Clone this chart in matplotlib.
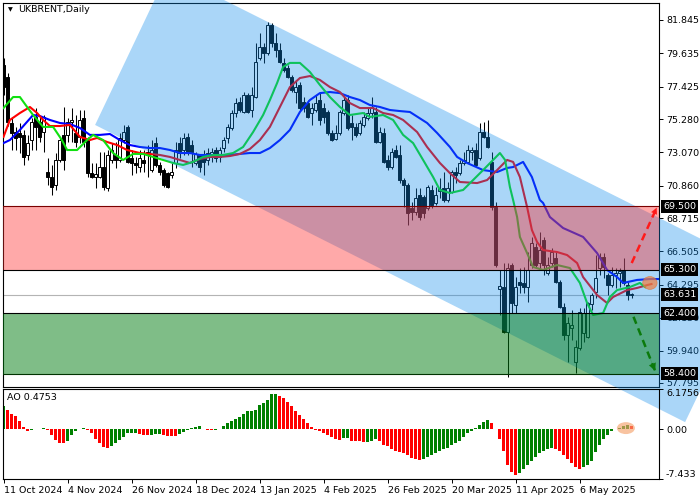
import numpy as np
import matplotlib.pyplot as plt
from matplotlib.patches import Polygon, Ellipse

# daily candles, UKBRENT (bar 0 = 11 Oct 2024)
opens = [78.87, 78.07, 75.02, 74.42, 74.36, 74.23, 72.90, 73.89, 75.42, 75.09,
         74.42, 71.77, 71.44, 70.91, 72.57, 74.23, 74.23, 75.09, 74.36, 74.10,
         75.35, 73.89, 71.70, 71.44, 71.44, 72.10, 70.71, 72.57, 72.90, 72.57,
         73.89, 74.76, 72.70, 72.37, 72.10, 72.57, 73.10, 71.90, 73.69, 72.24,
         71.90, 71.70, 71.57, 72.37, 73.69, 73.23, 74.10, 73.56, 72.37, 72.90,
         72.90, 72.57, 72.77, 73.23, 72.77, 73.36, 74.03, 74.69, 75.68, 76.41,
         75.75, 76.87, 75.88, 76.74, 79.33, 80.06, 79.66, 81.51, 80.32, 79.86,
         78.99, 78.66, 78.07, 77.07, 77.54, 76.41, 76.34, 75.68, 75.88, 76.54,
         76.01, 75.75, 74.36, 73.96, 74.36, 75.68, 76.54, 75.02, 74.76, 74.36,
         74.89, 75.35, 75.68, 75.75, 73.76, 74.36, 72.57, 72.10, 73.23, 72.90,
         71.24, 70.91, 69.39, 69.12, 70.25, 70.12, 69.39, 70.58, 69.72, 70.51,
         70.71, 69.92, 70.45, 71.77, 71.70, 72.37, 72.44, 73.10, 73.23, 72.70,
         74.42, 74.10, 72.44, 69.46, 64.00, 64.16, 61.17, 65.61, 62.96, 64.49,
         64.42, 64.16, 65.61, 66.80, 65.74, 67.27, 65.09, 65.74, 66.07, 64.49,
         62.83, 60.97, 61.43, 59.18, 60.12, 61.10, 60.84, 63.02, 63.82, 65.41,
         66.14, 64.95, 64.29, 64.95, 65.09, 65.28, 64.29, 63.62]
highs = [79.30, 78.30, 75.42, 74.76, 75.02, 74.56, 74.23, 75.35, 76.01, 75.42,
         75.55, 72.70, 72.24, 73.03, 74.10, 76.08, 75.35, 76.01, 75.55, 75.88,
         75.88, 74.10, 72.37, 72.37, 73.10, 73.10, 73.23, 73.69, 73.76, 74.36,
         74.89, 74.89, 73.23, 72.77, 73.23, 73.23, 73.56, 73.89, 74.10, 72.44,
         72.04, 71.77, 72.37, 73.76, 74.10, 74.36, 74.36, 73.89, 73.10, 72.97,
         73.23, 73.36, 73.36, 73.43, 73.43, 74.10, 74.96, 75.88, 76.67, 76.74,
         77.07, 77.00, 77.40, 80.32, 80.98, 80.32, 81.71, 81.65, 80.98, 80.32,
         79.33, 78.86, 78.20, 77.87, 77.74, 76.74, 76.54, 76.34, 76.87, 77.00,
         76.34, 75.88, 74.56, 74.89, 75.88, 76.87, 76.87, 75.55, 75.02, 75.22,
         75.75, 76.08, 76.74, 76.08, 74.76, 74.69, 72.90, 73.36, 73.56, 73.56,
         71.37, 71.04, 69.79, 70.71, 70.71, 70.25, 70.91, 70.91, 70.78, 71.37,
         71.77, 71.10, 71.90, 72.10, 72.57, 73.10, 73.56, 73.43, 73.69, 75.02,
         75.09, 75.22, 73.10, 69.79, 65.28, 65.74, 65.74, 65.74, 64.81, 65.41,
         65.48, 66.47, 67.47, 67.07, 67.80, 67.47, 66.14, 66.73, 66.47, 64.62,
         63.09, 62.17, 62.63, 60.64, 62.76, 62.76, 63.16, 63.76, 66.27, 66.40,
         66.40, 65.09, 65.48, 65.41, 65.41, 66.07, 64.49, 63.76]
lows = [76.90, 74.80, 73.23, 73.23, 73.03, 72.24, 72.57, 73.23, 73.23, 73.76,
        73.10, 70.91, 70.25, 70.58, 72.44, 71.90, 73.76, 73.76, 73.43, 73.69,
        73.43, 71.44, 71.37, 70.71, 71.37, 70.58, 70.51, 72.37, 72.04, 72.44,
        73.69, 72.37, 71.57, 71.70, 71.77, 71.77, 71.44, 71.77, 72.10, 71.57,
        70.78, 70.71, 71.37, 72.04, 72.70, 72.90, 72.90, 72.10, 72.24, 71.77,
        71.57, 72.24, 72.44, 72.44, 72.44, 73.10, 73.69, 74.56, 75.42, 75.75,
        75.68, 75.68, 75.42, 76.67, 79.20, 79.00, 79.53, 80.06, 79.40, 78.99,
        78.40, 78.00, 77.07, 76.34, 75.88, 75.75, 75.35, 74.89, 75.75, 74.89,
        75.02, 74.23, 73.80, 73.90, 74.23, 75.55, 74.56, 73.89, 74.10, 74.23,
        74.76, 75.22, 75.35, 73.69, 73.69, 72.37, 71.90, 71.97, 72.70, 71.04,
        69.46, 68.26, 68.59, 68.92, 68.59, 68.72, 69.26, 69.39, 69.58, 70.05,
        69.79, 69.79, 70.38, 71.04, 71.57, 72.24, 72.37, 72.57, 72.10, 72.57,
        74.03, 73.36, 69.26, 65.48, 62.29, 61.10, 58.18, 62.43, 62.43, 63.76,
        63.76, 63.16, 65.41, 65.48, 65.28, 64.95, 64.95, 65.48, 64.42, 62.76,
        60.64, 59.18, 60.64, 58.45, 59.98, 60.51, 60.77, 62.63, 63.42, 64.95,
        64.75, 63.62, 64.16, 64.09, 64.16, 64.29, 63.29, 63.42]
closes = [77.41, 75.09, 74.36, 74.03, 74.10, 72.77, 73.69, 75.09, 74.76, 74.10,
          75.42, 71.44, 70.78, 72.57, 73.89, 72.57, 75.09, 75.22, 73.76, 75.22,
          73.76, 71.70, 71.44, 71.64, 72.10, 70.78, 72.90, 73.23, 72.57, 74.03,
          74.42, 72.44, 72.37, 72.24, 72.70, 72.37, 72.90, 73.23, 72.24, 71.77,
          70.91, 70.78, 71.77, 73.23, 73.03, 74.03, 73.10, 73.10, 72.97, 72.10,
          72.44, 73.03, 73.10, 72.70, 73.23, 73.89, 74.76, 75.68, 76.34, 75.88,
          76.87, 75.75, 76.87, 79.06, 80.06, 79.66, 81.51, 80.32, 79.86, 79.06,
          78.53, 78.07, 77.21, 77.40, 76.01, 76.01, 75.42, 76.01, 76.34, 75.22,
          75.42, 74.36, 73.89, 74.36, 75.75, 76.54, 74.69, 74.76, 74.23, 75.02,
          75.42, 75.68, 76.08, 73.76, 74.42, 72.44, 72.10, 73.10, 72.77, 71.24,
          70.91, 69.06, 69.12, 70.05, 68.79, 69.06, 70.78, 69.58, 70.25, 70.65,
          69.92, 70.71, 71.77, 71.57, 72.37, 72.57, 73.23, 73.23, 72.24, 74.42,
          74.10, 73.43, 69.46, 65.61, 64.20, 61.17, 65.41, 63.09, 64.16, 64.29,
          64.16, 65.28, 67.07, 65.61, 66.60, 65.61, 65.61, 66.47, 64.49, 62.83,
          60.97, 61.77, 61.63, 60.18, 62.50, 62.43, 63.09, 63.62, 64.75, 66.14,
          65.48, 64.29, 64.95, 65.09, 65.22, 64.42, 63.62, 63.63]

# Awesome Oscillator
ao = [3.5, 3.0, 2.3, 2.0, 1.2, 0.4, -0.2, -0.1, 0.0, 0.1,
      0.2, -0.1, -0.9, -1.6, -2.0, -2.1, -1.8, -0.9, -0.3, 0.0,
      0.2, -0.1, -0.6, -1.4, -2.1, -2.6, -2.8, -2.5, -2.0, -1.6,
      -1.1, -0.6, -0.55, -0.5, -0.7, -0.8, -0.9, -0.8, -0.75, -0.7,
      -0.9, -1.0, -1.02, -1.05, -0.7, -0.4, -0.1, 0.2, 0.4, 0.45,
      0.1, -0.05, -0.1, -0.05, 0.1, 0.5, 0.9, 1.2, 1.5, 1.9,
      2.3, 2.8, 2.85, 3.0, 3.7, 4.0, 4.4, 5.3, 5.35, 5.0,
      4.7, 4.1, 3.5, 2.8, 2.2, 1.6, 1.0, 0.4, -0.1, -0.3,
      -0.6, -0.9, -1.1, -1.4, -1.6, -1.3, -1.25, -1.7, -1.75, -1.8,
      -1.9, -1.85, -1.7, -1.5, -1.8, -2.3, -2.5, -3.0, -3.2, -3.4,
      -3.5, -3.9, -4.3, -4.5, -4.6, -4.5, -4.2, -3.9, -3.6, -3.3,
      -3.0, -2.8, -2.4, -2.0, -1.7, -1.1, -0.6, -0.3, 0.25, 0.6,
      1.1, 1.4, 1.0, 0.1, -1.5, -3.3, -5.3, -6.4, -6.8, -6.5,
      -6.0, -5.3, -4.7, -4.1, -3.5, -3.2, -2.9, -2.85, -2.9, -3.3,
      -3.8, -4.4, -5.0, -5.6, -6.0, -5.7, -5.3, -4.7, -3.4, -2.3,
      -1.4, -0.8, -0.3, 0.05, 0.2, 0.5, 0.6, 0.4753]

# alligator lines (bar position, price)
jaw_x = [0, 1.6, 4.1, 7.4, 9.1, 11.6, 14.1, 16.6, 19.1, 21.6, 24.1, 26.6, 29.1,
         31.6, 34.1, 36.6, 39.1, 41.6, 44.1, 46.6, 49.1, 51.6, 54.1, 56.6, 59.1,
         61.6, 64.1, 66.6, 69.1, 71.6, 74.1, 76.6, 79.1, 81.6, 84.1, 86.6, 89.1,
         91.6, 94.1, 96.6, 99.1, 101.6, 105.9, 108.4, 111.6, 113.4, 115.9, 119.9,
         123.4, 125.9, 127.4, 129.9, 132.1, 134.1, 134.9, 136.6, 139.9, 144.9,
         148.4, 150.9, 153.4, 154.9, 158.4, 161.6, 165]
jaw_y = [73.69, 73.89, 74.56, 75.55, 75.48, 75.22, 75.02, 74.95, 74.69, 74.23,
         74.23, 74.29, 73.89, 73.56, 73.43, 73.36, 73.36, 73.23, 73.03, 73.03,
         72.90, 72.90, 72.90, 72.90, 72.97, 73.03, 73.03, 73.36, 73.89, 74.56,
         75.75, 76.54, 77.00, 77.07, 77.00, 76.74, 76.54, 76.21, 76.08, 75.88,
         75.81, 75.75, 75.02, 74.36, 73.43, 72.77, 72.37, 71.90, 71.77, 72.04,
         72.10, 72.44, 71.44, 69.92, 69.72, 68.79, 68.06, 67.47, 66.40, 65.28,
         64.81, 64.42, 64.62, 64.68, 64.68]
teeth_x = [0, 1.6, 4.1, 6.6, 8.4, 9.9, 11.6, 14.1, 16.6, 19.1, 21.6, 23.4, 25.9,
           28.4, 30.9, 34.1, 36.6, 39.1, 41.6, 44.1, 46.6, 49.1, 51.6, 54.1, 56.6,
           59.1, 61.6, 64.1, 66.6, 69.1, 71.6, 74.1, 76.6, 79.1, 81.6, 84.1, 86.6,
           89.1, 92.4, 94.9, 97.4, 99.9, 103.4, 105.9, 109.1, 111.6, 114.1, 118.4,
           120.9, 123.4, 125.9, 127.4, 129.1, 130.9, 132.1, 133.4, 134.9, 138.4,
           140.9, 143.4, 144.9, 148.4, 150.9, 152.4, 155.9, 158.4, 160.9, 162]
teeth_y = [74.10, 75.22, 75.68, 76.08, 75.68, 75.22, 74.82, 74.82, 74.89, 74.10,
           73.89, 74.03, 73.76, 73.56, 73.23, 73.03, 72.97, 72.90, 72.77, 72.57,
           72.37, 72.63, 72.77, 72.77, 72.83, 72.97, 73.30, 73.89, 74.76, 76.08,
           77.40, 78.00, 78.13, 77.87, 77.40, 77.07, 76.34, 76.01, 76.01, 75.68,
           75.55, 75.22, 74.42, 73.43, 72.37, 71.70, 71.11, 71.04, 71.24, 71.90,
           72.57, 72.44, 71.44, 69.45, 67.93, 67.13, 66.60, 66.47, 66.27, 65.74,
           64.81, 63.62, 63.09, 63.49, 63.95, 64.09, 64.28, 64.35]
lips_x = [0, 2.4, 4.1, 5.9, 7.4, 9.9, 12.4, 14.6, 15.9, 18.4, 20.9, 22.4, 24.9,
          27.4, 29.9, 32.4, 34.9, 37.4, 39.9, 42.4, 44.9, 47.4, 49.9, 52.4, 54.9,
          57.4, 59.9, 62.4, 64.9, 66.6, 68.4, 69.9, 71.6, 74.1, 76.6, 79.1, 81.6,
          84.1, 86.6, 89.9, 91.6, 94.9, 97.4, 99.9, 102.4, 104.9, 107.4, 109.1,
          111.6, 114.9, 117.4, 119.9, 122.4, 124.1, 125.4, 126.6, 127.4, 128.4,
          129.1, 130.9, 132.4, 134.9, 138.4, 141.6, 144.1, 145.9, 147.4, 149.9,
          151.6, 153.4, 156.6, 159.1, 160.4]
lips_y = [76.01, 76.74, 76.74, 76.08, 75.55, 74.76, 74.76, 73.89, 73.23, 73.23,
          73.89, 74.23, 73.89, 73.03, 72.57, 72.97, 72.97, 72.77, 72.57, 72.37,
          72.24, 72.44, 72.77, 72.90, 72.90, 73.03, 73.43, 74.42, 75.55, 76.54,
          77.67, 78.73, 79.00, 79.00, 78.40, 77.54, 76.74, 76.08, 75.55, 75.68,
          75.42, 75.55, 75.22, 74.23, 73.69, 72.57, 71.44, 70.58, 70.38, 70.58,
          71.24, 71.90, 72.57, 73.03, 72.57, 70.78, 69.92, 68.79, 67.47, 66.40,
          65.48, 65.28, 65.61, 65.41, 64.42, 63.09, 62.30, 62.43, 63.49, 63.95,
          64.15, 64.42, 64.15]

price_ticks = [81.845, 79.635, 77.425, 75.280, 73.070, 70.860, 68.715, 66.505,
               64.295, 62.130, 59.940, 57.795]
ao_ticks = [6.1756, 0.0, -7.433]
ao_tick_labels = ['6.1756', '0.00', '-7.433']
date_pos = [0, 16, 32, 48, 64, 80, 96, 112, 128, 144]
date_labels = ['11 Oct 2024', '4 Nov 2024', '26 Nov 2024', '18 Dec 2024', '13 Jan 2025',
               '4 Feb 2025', '26 Feb 2025', '20 Mar 2025', '11 Apr 2025', '6 May 2025']

resist = (65.3, 69.5)
support = (58.4, 62.4)
last_price = 63.631
box_levels = [69.5, 65.3, 63.631, 62.4, 58.4]

# descending channel corners (bar, price)
channel_x = [22.9, 41.1, 188.9, 170.4]
channel_y = [74.89, 85.03, 65.41, 55.2]

up_arrow_x, up_arrow_y = [157.05, 163.3], [65.74, 69.41]
dn_arrow_x, dn_arrow_y = [157.5, 162.9], [62.18, 58.6]

plt.rcParams['font.family'] = ['DejaVu Sans']
FS = 6.8

fig = plt.figure(figsize=(7, 5), dpi=100)
ax = fig.add_axes([3 / 700, 1 - 386.5 / 500, 656 / 700, 383.5 / 500])
ax2 = fig.add_axes([3 / 700, 1 - 478.7 / 500, 656 / 700, 90.2 / 500], facecolor='none')

x = np.arange(len(closes))
o = np.array(opens); c = np.array(closes)
h = np.array(highs); l = np.array(lows)
up = c >= o
cndl = '#000000'

ax.vlines(x, l, h, color=cndl, lw=0.75, zorder=2)
body = np.maximum(np.abs(c - o), 0.04)
ax.bar(x[up], body[up], bottom=o[up], width=0.62, facecolor='white',
       edgecolor=cndl, lw=0.7, zorder=2.5)
ax.bar(x[~up], body[~up], bottom=c[~up], width=0.62, facecolor=cndl,
       edgecolor=cndl, lw=0.7, zorder=2.5)

ax.plot(jaw_x, jaw_y, color='#0000ff', lw=1.5, zorder=3)
ax.plot(teeth_x, teeth_y, color='#ff0000', lw=1.5, zorder=3)
ax.plot(lips_x, lips_y, color='#10e010', lw=1.5, zorder=3)

ax.axhline(last_price, color='#b4b4b4', lw=0.8, zorder=1.5)

chan = Polygon(np.column_stack([channel_x, channel_y]), closed=True,
               facecolor=(12 / 255, 138 / 255, 235 / 255), alpha=0.35,
               edgecolor='none', zorder=4, clip_on=False)
ax.add_patch(chan)

ax.axhspan(*resist, facecolor=(1, 40 / 255, 40 / 255), alpha=0.4, lw=0, zorder=5)
ax.axhspan(*support, facecolor=(0, 125 / 255, 17 / 255), alpha=0.5, lw=0, zorder=5)
ax.axhline(resist[1], color='#7a0000', lw=0.8, zorder=6)
ax.axhline(resist[0], color='black', lw=0.8, zorder=6)
ax.axhline(support[1], color='black', lw=0.8, zorder=6)
ax.axhline(support[0], color='#003300', lw=0.8, zorder=6)

# forecast arrows
ax.plot(up_arrow_x, up_arrow_y, color='#ff1a1a', lw=1.8, dashes=(3, 2), zorder=7)
ax.annotate('', xy=(up_arrow_x[1], up_arrow_y[1]),
            xytext=(up_arrow_x[1] - 0.25 * (up_arrow_x[1] - up_arrow_x[0]),
                    up_arrow_y[1] - 0.25 * (up_arrow_y[1] - up_arrow_y[0])),
            arrowprops=dict(arrowstyle='-|>', color='#ff1a1a', lw=0.1,
                            mutation_scale=11, shrinkA=0, shrinkB=0), zorder=7)
ax.plot(dn_arrow_x, dn_arrow_y, color='#0b7a0b', lw=1.8, dashes=(3, 2), zorder=7)
ax.annotate('', xy=(dn_arrow_x[1], dn_arrow_y[1]),
            xytext=(dn_arrow_x[1] - 0.25 * (dn_arrow_x[1] - dn_arrow_x[0]),
                    dn_arrow_y[1] - 0.25 * (dn_arrow_y[1] - dn_arrow_y[0])),
            arrowprops=dict(arrowstyle='-|>', color='#0b7a0b', lw=0.1,
                            mutation_scale=13, shrinkA=0, shrinkB=0), zorder=7)

ax.add_patch(Ellipse((161.6, 64.42), 3.6, 0.85, facecolor='#f08040', alpha=0.7,
                     edgecolor='#e07030', lw=0.5, zorder=7))

ax.set_xlim(-0.125, 163.875)
ax.set_ylim(57.56, 82.97)
ax.set_xticks([])
ax.yaxis.tick_right()
ax.set_yticks(price_ticks)
ax.set_yticklabels(['%.3f' % v for v in price_ticks])
ax.tick_params(axis='y', direction='out', length=3, width=0.7, pad=2, labelsize=FS)
for s in ax.spines.values():
    s.set_linewidth(0.8)

for lv in box_levels:
    ax.text(1.0065, lv, '%.3f' % lv, transform=ax.get_yaxis_transform(),
            ha='left', va='center', color='white', fontsize=FS, zorder=10,
            clip_on=False,
            bbox=dict(boxstyle='square,pad=0.2', facecolor='black', edgecolor='none'))

ax.text(0.008, 0.982, '\u25bc', transform=ax.transAxes, fontsize=4.5,
        va='center', ha='left', zorder=10)
ax.text(0.023, 0.982, 'UKBRENT,Daily', transform=ax.transAxes, fontsize=FS,
        va='center', ha='left', zorder=10)

# AO panel
ao_arr = np.array(ao)
ao_col = ['#008000'] + ['#008000' if ao_arr[i] > ao_arr[i - 1] else '#ff0000'
                        for i in range(1, len(ao_arr))]
ax2.bar(x, ao_arr, width=0.7, color=ao_col, zorder=2)
ax2.add_patch(Ellipse((155.6, 0.2), 4.5, 1.8, facecolor='#f5a36e', alpha=0.65,
                      edgecolor='none', zorder=3))
ax2.set_xlim(-0.125, 163.875)
ax2.set_ylim(-7.433, 6.1756)
ax2.yaxis.tick_right()
ax2.set_yticks(ao_ticks)
ax2.set_yticklabels(ao_tick_labels)
ylbls = ax2.get_yticklabels()
ylbls[0].set_va('top')
ylbls[2].set_va('bottom')
ax2.set_xticks(date_pos)
ax2.set_xticklabels(date_labels, ha='left')
ax2.tick_params(axis='both', direction='out', length=3, width=0.7, pad=2, labelsize=FS)
for s in ax2.spines.values():
    s.set_linewidth(0.8)
ax2.text(0.006, 0.905, 'AO 0.4753', transform=ax2.transAxes, fontsize=FS,
         va='center', ha='left')

fig.savefig('out.png', dpi=100)
